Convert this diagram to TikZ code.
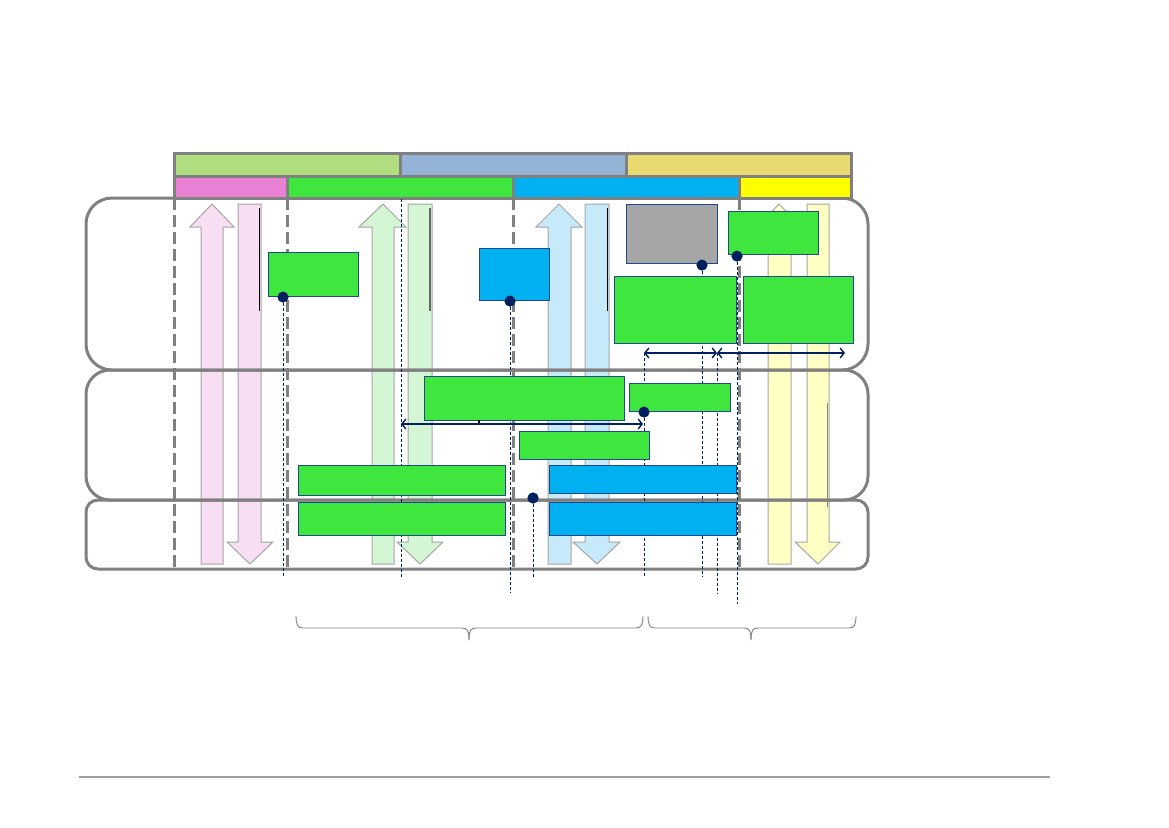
\documentclass[tikz,border=0pt]{standalone}
\usetikzlibrary{arrows.meta}
\definecolor{hdrA}{RGB}{177,221,129}
\definecolor{hdrB}{RGB}{149,179,215}
\definecolor{hdrC}{RGB}{232,218,112}
\definecolor{cPink}{RGB}{232,128,212}
\definecolor{cGreen}{RGB}{62,230,62}
\definecolor{cCyan}{RGB}{0,176,240}
\definecolor{cYellow}{RGB}{255,255,0}
\definecolor{cNavy}{RGB}{0,32,96}
\definecolor{cBorder}{RGB}{31,73,140}
\definecolor{cGray}{RGB}{128,128,128}
\definecolor{cBox}{RGB}{166,166,166}
\definecolor{aPink}{RGB}{248,222,242}
\definecolor{aGreen}{RGB}{212,246,212}
\definecolor{aBlue}{RGB}{198,234,250}
\definecolor{aYellow}{RGB}{255,255,196}
\definecolor{aEdge}{RGB}{165,165,165}
\tikzset{
  hdr/.style={draw=cGray, line width=3pt},
  lane/.style={draw=cGray, line width=3pt},
  gdash/.style={draw=cGray, line width=3pt, dash pattern=on 12pt off 5pt},
  dotline/.style={draw=cNavy, line width=0.9pt, dash pattern=on 3pt off 2pt},
  box/.style={draw=cBorder, line width=1pt, inner sep=0pt, outer sep=0pt},
  gbox/.style={box, fill=cGreen},
  bbox/.style={box, fill=cCyan},
  dot/.style={circle, fill=cNavy, inner sep=0pt, minimum size=11pt},
  blk/.style={draw=aEdge, line width=1pt},
  darr/.style={draw=cNavy, line width=1.4pt, {Straight Barb[length=4pt,width=10pt]}-{Straight Barb[length=4pt,width=10pt]}},
  brace/.style={draw=cGray, line width=0.9pt},
}
\newcommand{\myUp}[6]{% fill, shaft l, shaft r, head l, head r, tip x
  \draw[blk, fill=#1] (#2,564) -- (#2,227) -- (#4,227) -- (#6,204) -- (#5,227) -- (#3,227) -- (#3,564) -- cycle;}
\newcommand{\myDown}[6]{%
  \draw[blk, fill=#1] (#2,204) -- (#2,542) -- (#4,542) -- (#6,564) -- (#5,542) -- (#3,542) -- (#3,204) -- cycle;}
\begin{document}
\begin{tikzpicture}[x=1pt,y=-1pt]
\useasboundingbox[fill=white] (0,0) rectangle (1169,827);

% block arrows
\myUp{aPink}{201}{223}{190}{234}{212}
\myDown{aPink}{238}{261}{227}{273}{250}
\myUp{aGreen}{372}{394}{359}{406}{383}
\myDown{aGreen}{408}{432}{397}{443}{420}
\myUp{aBlue}{548}{571}{536}{582}{559}
\myDown{aBlue}{585}{609}{573}{620}{597}
\myUp{aYellow}{768}{791}{757}{802}{779}
\myDown{aYellow}{807}{829}{795}{840}{818}

% thin lines inside arrows
\draw[black, line width=1pt] (259,208) -- (259,311);
\draw[black!60, line width=1.2pt] (430,208) -- (430,311);
\draw[black, line width=1pt] (607,208) -- (607,311);
\draw[black!50, line width=1pt] (827,403) -- (827,507);

% lanes
\draw[lane, rounded corners=26pt] (86,198) rectangle (868,370);
\draw[lane, rounded corners=24pt] (86,370) rectangle (868,500);
\draw[lane, rounded corners=12pt] (86,500) rectangle (868,569);

% header
\node[hdr, fill=hdrA, minimum width=226pt, minimum height=23pt, inner sep=0pt, outer sep=0pt, anchor=north west] (h1) at (174,153) {};
\node[hdr, fill=hdrB, minimum width=226pt, minimum height=23pt, inner sep=0pt, outer sep=0pt, anchor=north west] (h2) at (400,153) {};
\node[hdr, fill=hdrC, minimum width=225pt, minimum height=23pt, inner sep=0pt, outer sep=0pt, anchor=north west] (h3) at (626,153) {};
\node[hdr, fill=cPink, minimum width=113pt, minimum height=22pt, inner sep=0pt, outer sep=0pt, anchor=north west] (s1) at (174,176) {};
\node[hdr, fill=cGreen, minimum width=226pt, minimum height=22pt, inner sep=0pt, outer sep=0pt, anchor=north west] (s2) at (287,176) {};
\node[hdr, fill=cCyan, minimum width=226pt, minimum height=22pt, inner sep=0pt, outer sep=0pt, anchor=north west] (s3) at (513,176) {};
\node[hdr, fill=cYellow, minimum width=112pt, minimum height=22pt, inner sep=0pt, outer sep=0pt, anchor=north west] (s4) at (739,176) {};

% gray dashed verticals
\draw[gdash] (174,198) -- (174,569);
\draw[gdash] (287,198) -- (287,569);
\draw[gdash] (513,198) -- (513,569);
\draw[gdash] (739,198) -- (739,569);

% dots
\node[dot] (d1) at (283,297) {};
\node[dot] (d2) at (510,301) {};
\node[dot] (d3) at (702,265) {};
\node[dot] (d4) at (737,256) {};
\node[dot] (d5) at (644,412) {};
\node[dot] (d6) at (533,498) {};

% coordinates
\coordinate (a1) at (644,353);
\coordinate (a2) at (717,353);
\coordinate (a3) at (845,353);
\coordinate (a4) at (401,424);
\coordinate (a5) at (643,424);
\coordinate (t1) at (401,199);
\coordinate (e1) at (283,577);
\coordinate (e2) at (510,593);
\coordinate (e3) at (702,577);
\coordinate (e4) at (737,604);
\coordinate (e5) at (644,577);
\coordinate (e6) at (533,577);
\coordinate (e7) at (401,577);
\coordinate (e8) at (717,594);

% dotted navy lines
\draw[dotline] (d1) -- (e1);
\draw[dotline] (d2) -- (e2);
\draw[dotline] (d3) -- (e3);
\draw[dotline] (d4) -- (e4);
\draw[dotline] (a1) -- (e5);
\draw[dotline] (d6) -- (e6);
\draw[dotline] (t1) -- (e7);
\draw[dotline] (a2) -- (e8);

% boxes
\node[gbox, minimum width=90pt, minimum height=44pt] (b1) at (313,274) {};
\node[bbox, minimum width=70pt, minimum height=52pt] (b2) at (514,274) {};
\node[box, fill=cBox, minimum width=91pt, minimum height=59pt] (b3) at (671.5,233.5) {};
\node[gbox, minimum width=90pt, minimum height=43pt] (b4) at (773,232.5) {};
\node[gbox, minimum width=122pt, minimum height=67pt] (b5) at (675,309.5) {};
\node[gbox, minimum width=110pt, minimum height=67pt] (b6) at (798,309.5) {};
\node[gbox, minimum width=200pt, minimum height=44pt] (b7) at (524,398) {};
\node[gbox, minimum width=101pt, minimum height=28pt] (b8) at (679.5,397) {};
\node[gbox, minimum width=130pt, minimum height=28pt] (b9) at (584,445) {};
\node[gbox, minimum width=207pt, minimum height=30pt] (b10) at (401.5,480) {};
\node[gbox, minimum width=207pt, minimum height=33pt] (b11) at (401.5,518.5) {};
\node[bbox, minimum width=187pt, minimum height=28pt] (b12) at (642.5,479) {};
\node[bbox, minimum width=187pt, minimum height=33pt] (b13) at (642.5,518.5) {};

% redraw dots on top
\node[dot] at (d1) {};
\node[dot] at (d2) {};
\node[dot] at (d3) {};
\node[dot] at (d4) {};
\node[dot] at (d5) {};
\node[dot] at (d6) {};

% tick under wide box
\draw[black, line width=1.8pt] (b7.south -| 479,0) -- ++(0,5);

% double arrows
\draw[darr] (a1) -- (a2);
\draw[darr] (a2) -- (a3);
\draw[darr] (a4) -- (a5);

% braces
\draw[brace] (296,616) .. controls (296,625) and (298,628) .. (303,628) -- (462,628) .. controls (467,628) and (469,630) .. (469,640);
\draw[brace] (643,616) .. controls (643,625) and (641,628) .. (636,628) -- (476,628) .. controls (471,628) and (469,630) .. (469,640);
\draw[brace] (648,616) .. controls (648,625) and (650,628) .. (655,628) -- (744,628) .. controls (749,628) and (751,630) .. (751,640);
\draw[brace] (856,616) .. controls (856,625) and (854,628) .. (849,628) -- (758,628) .. controls (753,628) and (751,630) .. (751,640);

% footer line
\draw[draw={rgb,255:red,160;green,160;blue,160}, line width=2pt] (79,777) -- (1050,777);
\end{tikzpicture}
\end{document}
